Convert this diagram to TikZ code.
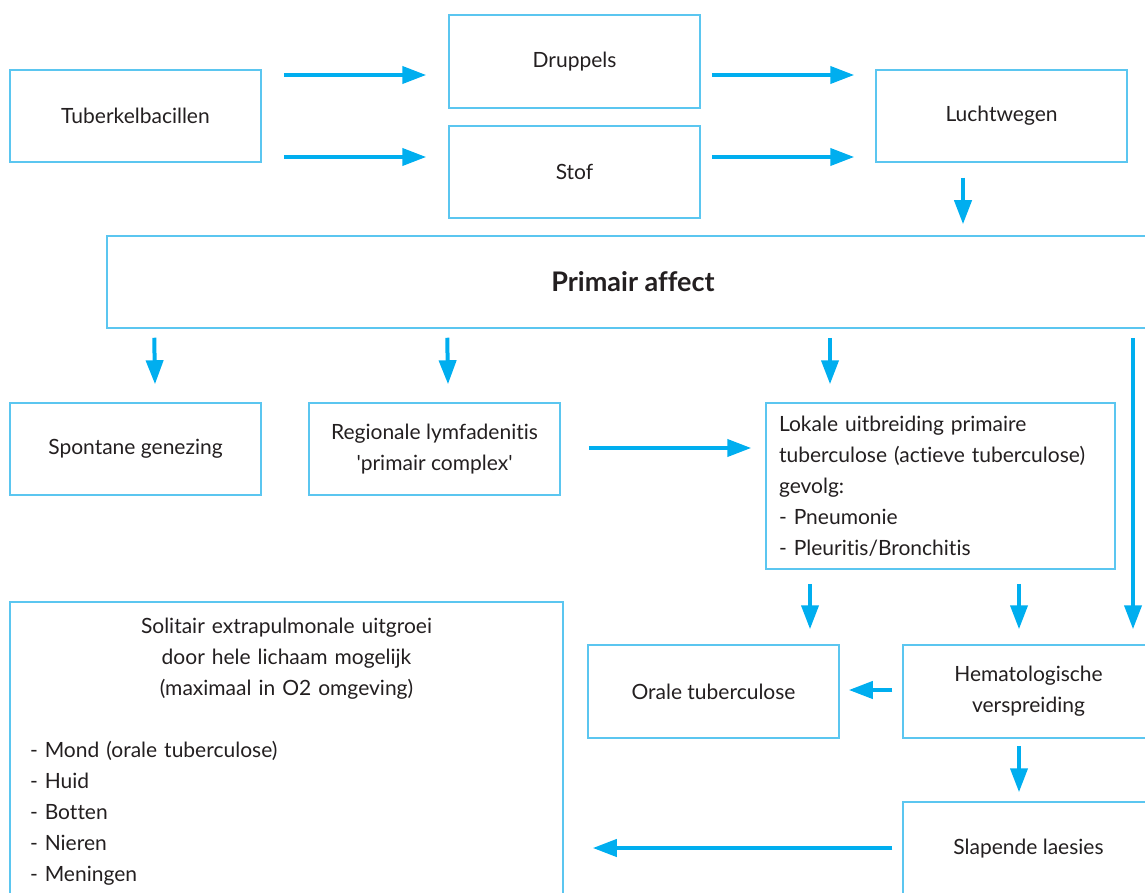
\documentclass[tikz,border=0pt]{standalone}
\usepackage{fontspec}
\setmainfont{Lato}[Ligatures=NoCommon]
\usetikzlibrary{arrows.meta}

\definecolor{boxblue}{HTML}{5BC6F0}
\definecolor{arrblue}{HTML}{00AEEF}
\definecolor{txtgray}{HTML}{231F20}

\tikzset{
  box/.style={draw=boxblue, line width=1.5pt, minimum width=251pt, minimum height=92pt,
    inner sep=0pt, align=center, text=txtgray, font=\fontsize{21}{31}\selectfont},
  arr/.style={draw=arrblue, line width=4pt, -{Triangle[length=24pt,width=17pt]}}
}

\begin{document}
\begin{tikzpicture}[x=1pt, y=-1pt]
	\useasboundingbox (0,0) rectangle (1145,893);
	\clip (0,0) rectangle (1145,893);
	% top row
	\node[box] (tub) at (135.5,116) {Tuberkelbacillen};
	\node[box, minimum height=93pt] (dru) at (574.5,61.5) {Druppels};
	\node[box] (sto) at (574.5,172) {Stof};
	\node[box] (luc) at (1001.5,116) {Luchtwegen};
	\node[box, minimum width=1052pt, font=\fontsize{27}{31}\selectfont\bfseries] (pri) at (633,282) {Primair affect};
	% middle row
	\node[box] (spo) at (135.5,449) {Spontane genezing};
	\node[box] (reg) at (434.5,449) {Regionale lymfadenitis\\\textquotesingle primair complex\textquotesingle};
	\node[box, minimum width=349pt, minimum height=166pt, text width=323pt, align=left] (lok) at (940.5,486)
		{Lokale uitbreiding primaire\\tuberculose (actieve tuberculose)\\gevolg:\\- Pneumonie\\- Pleuritis/Bronchitis};
	% bottom rows
	\node[box, minimum width=553pt, minimum height=300pt, text width=513pt, align=left] (sol) at (286.5,752)
		{{\centering Solitair extrapulmonale uitgroei\\door hele lichaam mogelijk\\(maximaal in O2 omgeving)\\\mbox{}\par}
		- Mond (orale tuberculose)\\- Huid\\- Botten\\- Nieren\\- Meningen};
	\node[box, minimum height=93pt] (ora) at (713.5,691.5) {Orale tuberculose};
	\node[box, minimum height=93pt] (hem) at (1028.5,691.5) {Hematologische\\verspreiding};
	\node[box, minimum height=94pt] (sla) at (1028.5,849) {Slapende laesies};
	% arrows
	\draw[arr] ([shift={(22,-41)}]tub.east) -- ([shift={(-22,13.5)}]dru.west);
	\draw[arr] ([shift={(22,41)}]tub.east) -- ([shift={(-22,-15)}]sto.west);
	\draw[arr] ([shift={(11,13.5)}]dru.east) -- ([shift={(-21,-41)}]luc.west);
	\draw[arr] ([shift={(11,-15)}]sto.east) -- ([shift={(-21,41)}]luc.west);
	\draw[arr] ([shift={(-38.5,15)}]luc.south) -- ([shift={(330,-11)}]pri.north);
	\draw[arr] ([shift={(48,9)}]pri.south west) -- ([shift={(19.5,-18)}]spo.north);
	\draw[arr] ([shift={(341,9)}]pri.south west) -- ([shift={(13.5,-18)}]reg.north);
	\draw[arr] ([shift={(197,9)}]pri.south) -- ([shift={(-110.5,-18)}]lok.north);
	\draw[arr] ([shift={(500,9)}]pri.south) -- ([shift={(104.5,-15)}]hem.north);
	\draw[arr] ([shift={(28,-1)}]reg.east) -- ([shift={(-14,-38)}]lok.west);
	\draw[arr] ([shift={(-130.5,14)}]lok.south) -- ([shift={(96.5,-15)}]ora.north);
	\draw[arr] ([shift={(78.5,14)}]lok.south) -- ([shift={(-9.5,-15)}]hem.north);
	\draw[arr] ([shift={(-10,-1.5)}]hem.west) -- ([shift={(9,-1.5)}]ora.east);
	\draw[arr] ([shift={(-9.5,7)}]hem.south) -- ([shift={(-9.5,-9)}]sla.north);
	\draw[arr] ([shift={(-10,-1)}]sla.west) -- ([shift={(29,96)}]sol.east);
\end{tikzpicture}
\end{document}
